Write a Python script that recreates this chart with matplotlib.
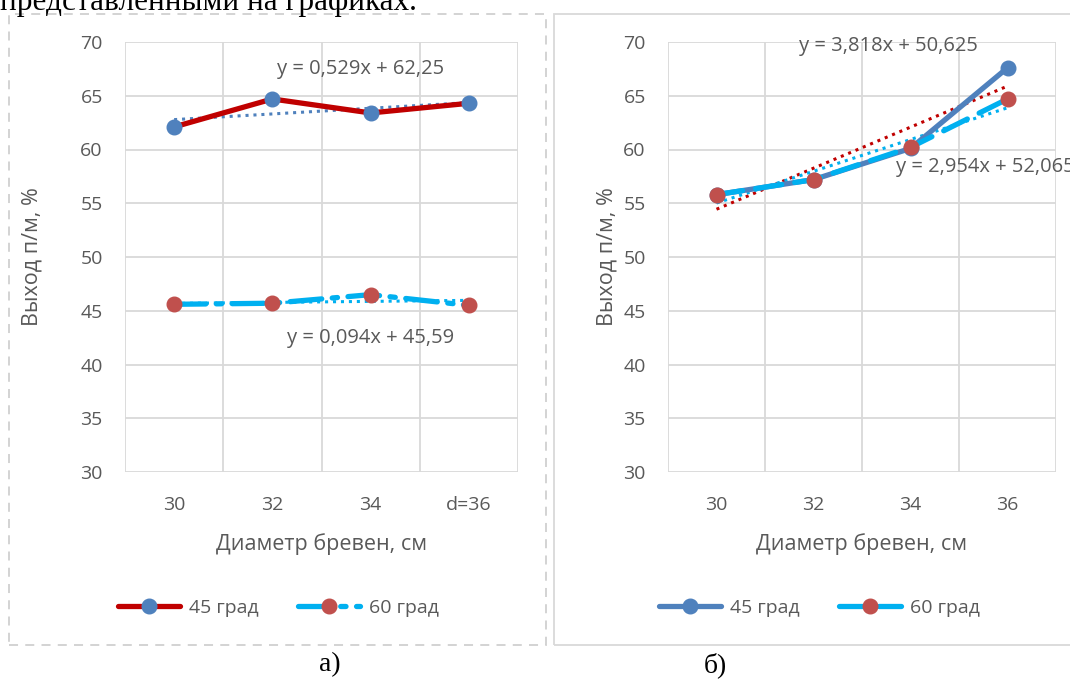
import numpy as np
import matplotlib.pyplot as plt
from matplotlib.patches import Rectangle

plt.rcParams['font.family'] = ['Open Sans', 'DejaVu Sans']

# данные
diam_a = ['30', '32', '34', 'd=36']
diam_b = ['30', '32', '34', '36']

vyh45_a = [62.1, 64.7, 63.4, 64.3]
vyh60_a = [45.6, 45.7, 46.5, 45.5]
vyh45_b = [55.8, 57.2, 60.1, 67.6]
vyh60_b = [55.8, 57.2, 60.2, 64.7]

# коэффициенты линий тренда (k, b)
tr45_a = (0.529, 62.25)
tr60_a = (0.094, 45.59)
tr45_b = (3.818, 50.625)
tr60_b = (2.954, 52.065)

eq45_a = 'y = 0,529x + 62,25'
eq60_a = 'y = 0,094x + 45,59'
eq45_b = 'y = 3,818x + 50,625'
eq60_b = 'y = 2,954x + 52,065'

grey = '#595959'
red = '#C00000'
blue = '#4F81BD'
cyan = '#00B0F0'
mred = '#C0504D'

W, H = 1070, 684
fig = plt.figure(figsize=(W / 100, H / 100), dpi=100)

def fx(px):
    return px / W

def fy(py):
    return 1 - py / H

# рамки диаграмм
fig.patches.append(Rectangle((fx(9), fy(645)), fx(546 - 9), fy(14) - fy(645),
                             transform=fig.transFigure, fill=False,
                             ec='#D0D0D0', lw=1.3, ls=(0, (5, 4))))
fig.patches.append(Rectangle((fx(554), fy(645)), fx(1200 - 554), fy(14) - fy(645),
                             transform=fig.transFigure, fill=False,
                             ec='#D9D9D9', lw=1.3))

fig.text(0.0, fy(10), 'представленными на графиках.', family='Liberation Serif',
         fontsize=22.5, va='baseline', ha='left', color='black')
fig.text(fx(330), fy(665), 'а)', family='Liberation Serif', fontsize=20,
         ha='center', va='center')
fig.text(fx(715), fy(665), 'б)', family='Liberation Serif', fontsize=20,
         ha='center', va='center')


def panel(left, right, labels, y45, y60, t45, t60, c45, ls60, ct45, ct60, eqs, ylpad):
    ax = fig.add_axes([fx(left), fy(472), fx(right - left), fy(42) - fy(472)])
    x = np.arange(len(labels))
    xt = x + 1
    ax.plot(x, t45[0] * xt + t45[1], ls=(0, (1, 1.6)), color=ct45, lw=2.2, zorder=2)
    ax.plot(x, t60[0] * xt + t60[1], ls=(0, (1, 1.6)), color=ct60, lw=2.2, zorder=2)
    ax.plot(x, y45, color=c45, lw=3.8, marker='o', ms=10.5, mfc=blue, mec=blue,
            label='45 град', zorder=3, solid_capstyle='round')
    ax.plot(x, y60, color=cyan, lw=3.8, ls=ls60, marker='o', ms=10.5, mfc=mred,
            mec=mred, label='60 град', zorder=4, dash_capstyle='round')
    ax.set_xlim(-0.5, len(labels) - 0.5)
    ax.set_ylim(30, 70)
    ax.set_yticks(range(30, 71, 5))
    ax.set_xticks(x)
    ax.set_xticklabels(labels)
    ax.set_xticks(np.arange(-0.5, len(labels), 1), minor=True)
    ax.grid(True, which='major', axis='y', color='#D9D9D9', lw=1.3)
    ax.grid(True, which='minor', axis='x', color='#D9D9D9', lw=1.3)
    ax.tick_params(which='both', length=0, labelsize=14, colors=grey)
    ax.tick_params(axis='x', pad=17)
    ax.tick_params(axis='y', pad=16)
    for s in ax.spines.values():
        s.set_visible(False)
    ax.set_xlabel('Диаметр бревен, см', fontsize=15.5, color=grey, labelpad=14)
    ax.set_ylabel('Выход п/м, %', fontsize=15.5, color=grey, labelpad=ylpad)
    for (xx, yy, txt) in eqs:
        ax.text(xx, yy, txt, fontsize=14.5, color=grey, ha='left', va='center',
                clip_on=False)
    ax.legend(loc='center', bbox_to_anchor=(0.39, -0.316), ncol=2, frameon=False,
              fontsize=14, labelcolor=grey, handlelength=3.2, columnspacing=2.0,
              handletextpad=0.45)
    return ax


panel(125, 518, diam_a, vyh45_a, vyh60_a, tr45_a, tr60_a, red, (0, (6, 2, 1, 2)),
      blue, cyan, [(1.05, 67.5, eq45_a), (1.15, 42.5, eq60_a)], 27)
panel(668, 1056, diam_b, vyh45_b, vyh60_b, tr45_b, tr60_b, blue, (0, (5, 2.5)),
      red, cyan, [(0.85, 69.6, eq45_b), (1.85, 58.4, eq60_b)], 4)

fig.savefig('out.png', dpi=100)
